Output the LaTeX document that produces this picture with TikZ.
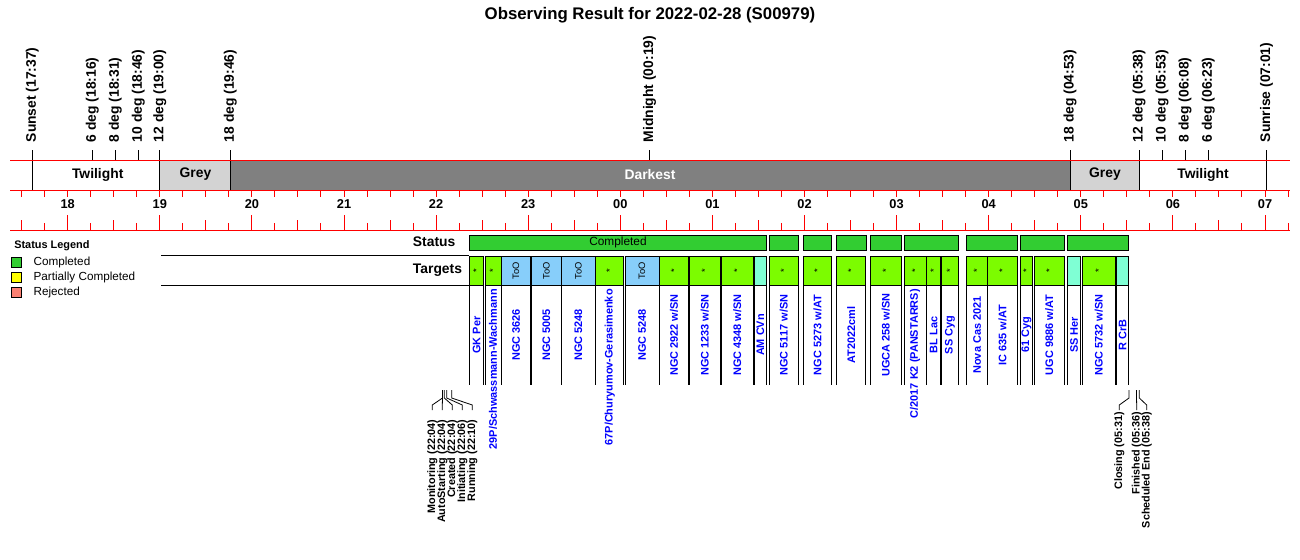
\documentclass[tikz,border=0pt]{standalone}
\usepackage{fontspec}
\setmainfont{Liberation Sans}
\definecolor{obsdone}{HTML}{32CD32}
\definecolor{obspartial}{HTML}{FFFF00}
\definecolor{obsreject}{HTML}{FA8072}
\definecolor{tgtdone}{HTML}{7CFC00}
\definecolor{tgttoo}{HTML}{87CEFA}
\definecolor{tgtaqua}{HTML}{7FFFD4}
\definecolor{skygrey}{HTML}{D3D3D3}
\definecolor{skydark}{HTML}{808080}
\definecolor{axisred}{HTML}{FF0000}
\newcommand{\hpos}[1]{67.7+92.1*(#1-18)}

\begin{document}
\begin{tikzpicture}[x=0.75pt,y=-0.75pt,
    skyline/.style={draw=axisred, line width=0.75pt},
    evlabel/.style={rotate=90, anchor=west, inner sep=0pt, font=\fontsize{10.4}{12}\selectfont\bfseries},
    barlabel/.style={inner sep=0pt, font=\fontsize{10.4}{12}\selectfont\bfseries},
    hourlabel/.style={inner sep=0pt, font=\fontsize{9.6}{11}\selectfont\bfseries},
    rowlabel/.style={anchor=west, inner sep=0pt, font=\fontsize{10.4}{12}\selectfont\bfseries},
    tgtlabel/.style={rotate=90, inner sep=0pt, text=blue, font=\fontsize{8.2}{10}\selectfont\bfseries},
    stagelabel/.style={rotate=90, anchor=east, inner sep=0pt, font=\fontsize{8.1}{10}\selectfont\bfseries},
    legendtext/.style={anchor=west, inner sep=0pt, font=\fontsize{8.8}{10}\selectfont}]
            \useasboundingbox (0,0) rectangle (1300,560);

            % Title
            \node[inner sep=0pt, font=\fontsize{12.6}{15}\selectfont\bfseries] (title) at (650,15)
                {Observing Result for 2022-02-28 (S00979)};

            % Sky brightness bar
            \fill[white] ({\hpos{17.6167}},160.7) rectangle ({\hpos{19.0}},190);
            \fill[skygrey] ({\hpos{19.0}},160.7) rectangle ({\hpos{19.7667}},190);
            \fill[skydark] ({\hpos{19.7667}},160.7) rectangle ({\hpos{28.8833}},190);
            \fill[skygrey] ({\hpos{28.8833}},160.7) rectangle ({\hpos{29.6333}},190);
            \foreach \t in {17.6167,19.0,19.7667,28.8833,29.6333,31.0167} {
                \draw[line width=0.7pt] ({\hpos{\t}},160) -- ({\hpos{\t}},190);
            }
            \node[barlabel] (twilighta) at (97.7,174.5) {Twilight};
            \node[barlabel] (greya) at (195.5,174.5) {Grey};
            \node[barlabel, text=white] (darkest) at (650,174.5) {Darkest};
            \node[barlabel] (greyb) at (1105,174.5) {Grey};
            \node[barlabel] (twilightb) at (1203,174.5) {Twilight};

            % Events
            \foreach \t/\txt [count=\k] in {17.6167/Sunset (17:37), 18.2667/6 deg (18:16),
                    18.5167/8 deg (18:31), 18.7667/10 deg (18:46), 19.0/12 deg (19:00),
                    19.7667/18 deg (19:46), 24.3167/Midnight (00:19), 28.8833/18 deg (04:53),
                    29.6333/12 deg (05:38), 29.8833/10 deg (05:53), 30.1333/8 deg (06:08),
                    30.3833/6 deg (06:23), 31.0167/Sunrise (07:01)} {
                \draw[line width=0.7pt] ({\hpos{\t}},150) -- ({\hpos{\t}},160);
                \node[evlabel] (ev\k) at ({\hpos{\t}},142.5) {\txt};
            }

            % Time axis
            \draw[skyline] (10,160.7) -- (1290,160.7);
            \draw[skyline] (10,190) -- (1290,190);
            \draw[skyline] (10,230) -- (1290,230);
            \foreach \i in {0,...,55} {
                \pgfmathtruncatemacro\q{mod(\i,4)}
                \pgfmathsetmacro\len{\q==2 ? 15 : (\q==0 ? 10 : 7)}
                \draw[skyline] ({\hpos{17.5+0.25*\i}},190) -- ++(0,7);
                \draw[skyline] ({\hpos{17.5+0.25*\i}},230) -- ++(0,-\len);
            }
            \foreach \h/\lbl in {18/18,19/19,20/20,21/21,22/22,23/23,24/00,
                    25/01,26/02,27/03,28/04,29/05,30/06,31/07} {
                \node[hourlabel] (hr\h) at ({\hpos{\h}},204.5) {\lbl};
            }

            % Legend
            \node[anchor=west, inner sep=0pt, font=\fontsize{8.2}{10}\selectfont\bfseries] (legend) at (14,246) {Status Legend};
            \draw[fill=obsdone] (11,257.7) rectangle (21.7,267.7);
            \node[legendtext] (lgdone) at (33.3,262.7) {Completed};
            \draw[fill=obspartial] (11,272.3) rectangle (21.7,282.7);
            \node[legendtext] (lgpartial) at (33.3,277.5) {Partially Completed};
            \draw[fill=obsreject] (11,287) rectangle (21.7,297);
            \node[legendtext] (lgreject) at (33.3,292.3) {Rejected};

            % Rows
            \node[rowlabel] (status) at (412.7,242) {Status};
            \node[rowlabel] (targets) at (412.7,270) {Targets};
            \draw[line width=0.7pt] (161,255) -- (469.3,255);
            \draw[line width=0.7pt] (161,285) -- (469.3,285);

            % Status
            \foreach \l/\r in {469.3/766.7, 769.3/798.3, 803.3/831.7, 836.7/866, 870/901.7,
                    904.3/958.3, 966.7/1017.3, 1020/1064.3, 1067.3/1128.3} {
                \draw[line width=0.7pt, fill=obsdone] (\l,235) rectangle (\r,250);
            }
            \node[inner sep=0pt, font=\fontsize{8.9}{10}\selectfont] (completed) at (618,242.5) {Completed};

            % Targets
            \foreach \l/\r/\c/\m/\lbl/\ly/\an [count=\k] in {
                    469.3/483.7/tgtdone/*/GK Per/335/center,
                    485/501/tgtdone/*/{29P/Schwassmann-Wachmann}/289/east,
                    501.7/530.3/tgttoo/ToO/NGC 3626/335/center,
                    531.7/561/tgttoo/ToO/NGC 5005/335/center,
                    561.7/595/tgttoo/ToO/NGC 5248/335/center,
                    595.7/623.7/tgtdone/*/{67P/Churyumov-Gerasimenko}/289/east,
                    625/659/tgttoo/ToO/NGC 5248/335/center,
                    659.7/688.5/tgtdone/*/{NGC 2922 w/SN}/335/center,
                    689.7/720/tgtdone/*/{NGC 1233 w/SN}/335/center,
                    721/753.3/tgtdone/*/{NGC 4348 w/SN}/335/center,
                    754.3/766.5/tgtaqua/{}/AM CVn/335/center,
                    769.3/798.3/tgtdone/*/{NGC 5117 w/SN}/335/center,
                    803.3/831.7/tgtdone/*/{NGC 5273 w/AT}/335/center,
                    836.7/865.5/tgtdone/*/AT2022cml/335/center,
                    870/901.7/tgtdone/*/{UGCA 258 w/SN}/335/center,
                    904.3/926/tgtdone/*/{C/2017 K2 (PANSTARRS)}/289/east,
                    926.7/940.7/tgtdone/*/BL Lac/335/center,
                    941.7/958.3/tgtdone/*/SS Cyg/335/center,
                    966.7/987.3/tgtdone/*/Nova Cas 2021/335/center,
                    987.7/1017.3/tgtdone/*/{IC 635 w/AT}/335/center,
                    1020/1032.7/tgtdone/*/61 Cyg/335/center,
                    1034.3/1064.3/tgtdone/*/{UGC 9886 w/AT}/335/center,
                    1067.3/1080.7/tgtaqua/{}/SS Her/335/center,
                    1082.3/1115/tgtdone/*/{NGC 5732 w/SN}/335/center,
                    1116.7/1128.3/tgtaqua/{}/R CrB/335/center} {
                \draw[line width=0.7pt, fill=\c] (\l,256) rectangle (\r,285);
                \node[rotate=90, inner sep=0pt, font=\fontsize{7}{8}\selectfont] (mk\k) at ({(\l+\r)/2},270.5) {\m};
                \draw[line width=0.7pt] (\l,285) -- (\l,385);
                \draw[line width=0.7pt] (\r,285) -- (\r,385);
                \node[tgtlabel, anchor=\an] (tg\k) at ({(\l+\r)/2},\ly) {\lbl};
            }

            % Stages
            \foreach \t/\lx/\ty/\txt [count=\k] in {442.5/432.3/419.5/Monitoring (22:04),
                    442.5/442.3/419.5/AutoStarting (22:04), 444.3/452.3/419.5/Created (22:04),
                    446.7/462.3/419.5/Initiating (22:06), 451.7/472.3/419.5/Running (22:10),
                    1129/1119.3/412/Closing (05:31), 1136.5/1136.7/412/Finished (05:36),
                    1139.3/1146.7/412/Scheduled End (05:38)} {
                \node[stagelabel] (st\k) at (\lx,\ty) {\txt};
                \draw[line width=0.6pt] (\t,390) -- (\t,398) -- (\lx,405) -- (\lx,410);
            }
        \end{tikzpicture}
\end{document}
